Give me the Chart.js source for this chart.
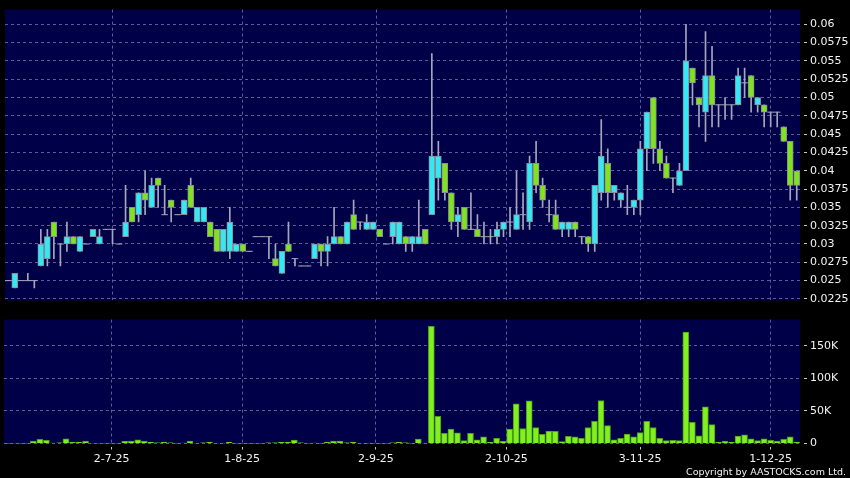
<!DOCTYPE html>
<html>
<head>
<meta charset="utf-8">
<script src="https://cdn.jsdelivr.net/npm/chart.js@4.4.1/dist/chart.umd.min.js"></script>
<style>
html,body{margin:0;padding:0;background:#000;width:850px;height:478px;overflow:hidden}
#p{position:absolute;left:0;top:0}
#v{position:absolute;left:0;top:310px}
#copy{position:absolute;right:4px;top:466px;color:#f4f4f4;font-family:"DejaVu Sans";font-size:9.5px;line-height:12px;white-space:nowrap}
</style>
</head>
<body>
<canvas id="p" width="850" height="310"></canvas>
<canvas id="v" width="850" height="168"></canvas>
<div id="copy">Copyright by AASTOCKS.com Ltd.</div>
<script>
// ---- data (one entry per trading session) ----
const open = [0.025,0.024,0.025,0.025,0.025,0.027,0.028,0.033,0.030,0.030,
0.031,0.029,0.030,0.031,0.030,0.032,0.032,0.030,0.031,0.035,
0.034,0.037,0.035,0.039,0.034,0.036,0.034,0.034,0.038,0.033,
0.033,0.033,0.032,0.029,0.029,0.029,0.030,0.029,0.031,0.031,
0.031,0.028,0.026,0.030,0.028,0.027,0.027,0.028,0.030,0.029,
0.030,0.031,0.030,0.034,0.033,0.032,0.032,0.032,0.030,0.031,
0.030,0.031,0.030,0.030,0.032,0.034,0.039,0.041,0.037,0.033,
0.035,0.032,0.032,0.031,0.031,0.031,0.032,0.033,0.032,0.034,
0.033,0.041,0.038,0.034,0.034,0.032,0.032,0.033,0.031,0.031,
0.030,0.037,0.041,0.037,0.036,0.035,0.035,0.036,0.043,0.050,
0.043,0.041,0.039,0.038,0.040,0.054,0.050,0.048,0.053,0.049,
0.049,0.049,0.049,0.052,0.053,0.049,0.049,0.048,0.048,0.046,
0.044,0.040];
const high = [0.025,0.026,0.025,0.026,0.025,0.032,0.032,0.033,0.030,0.033,
0.031,0.031,0.030,0.032,0.032,0.032,0.032,0.030,0.038,0.035,
0.037,0.040,0.039,0.039,0.038,0.036,0.034,0.036,0.039,0.035,
0.035,0.033,0.032,0.032,0.035,0.030,0.030,0.029,0.031,0.031,
0.031,0.030,0.029,0.033,0.028,0.027,0.027,0.030,0.030,0.031,
0.035,0.031,0.033,0.036,0.033,0.034,0.033,0.032,0.030,0.033,
0.033,0.031,0.031,0.036,0.032,0.056,0.044,0.041,0.037,0.035,
0.035,0.037,0.034,0.033,0.032,0.033,0.033,0.035,0.040,0.037,
0.042,0.044,0.039,0.036,0.036,0.033,0.033,0.033,0.031,0.031,
0.038,0.047,0.043,0.038,0.037,0.038,0.036,0.044,0.048,0.050,
0.044,0.042,0.039,0.041,0.060,0.054,0.050,0.059,0.057,0.049,
0.050,0.049,0.054,0.054,0.053,0.050,0.049,0.048,0.048,0.046,
0.044,0.040];
const low = [0.025,0.024,0.025,0.025,0.024,0.027,0.027,0.028,0.027,0.029,
0.030,0.029,0.030,0.031,0.030,0.032,0.030,0.030,0.031,0.033,
0.033,0.034,0.035,0.035,0.034,0.033,0.034,0.034,0.035,0.033,
0.033,0.031,0.029,0.029,0.028,0.029,0.029,0.029,0.031,0.031,
0.028,0.027,0.026,0.029,0.027,0.027,0.027,0.028,0.027,0.027,
0.030,0.030,0.030,0.032,0.032,0.032,0.032,0.031,0.030,0.030,
0.030,0.029,0.029,0.030,0.030,0.034,0.036,0.036,0.032,0.031,
0.032,0.032,0.031,0.030,0.030,0.030,0.031,0.031,0.032,0.032,
0.032,0.037,0.035,0.033,0.032,0.031,0.031,0.031,0.030,0.029,
0.029,0.036,0.035,0.036,0.035,0.034,0.034,0.034,0.040,0.041,
0.040,0.039,0.037,0.038,0.040,0.049,0.046,0.044,0.046,0.046,
0.047,0.047,0.049,0.050,0.048,0.048,0.046,0.046,0.046,0.044,
0.036,0.036];
const close = [0.025,0.026,0.025,0.025,0.025,0.030,0.031,0.031,0.030,0.031,
0.030,0.031,0.030,0.032,0.031,0.032,0.032,0.030,0.033,0.033,
0.037,0.036,0.038,0.038,0.034,0.035,0.034,0.036,0.035,0.035,
0.035,0.031,0.029,0.032,0.033,0.030,0.029,0.029,0.031,0.031,
0.031,0.027,0.029,0.029,0.028,0.027,0.027,0.030,0.029,0.030,
0.031,0.030,0.033,0.032,0.033,0.033,0.033,0.031,0.030,0.033,
0.033,0.030,0.031,0.031,0.030,0.042,0.042,0.037,0.033,0.034,
0.032,0.032,0.031,0.031,0.031,0.032,0.033,0.033,0.034,0.034,
0.041,0.038,0.036,0.034,0.032,0.033,0.033,0.032,0.031,0.030,
0.038,0.042,0.037,0.038,0.037,0.035,0.036,0.043,0.048,0.043,
0.041,0.039,0.039,0.040,0.055,0.052,0.049,0.053,0.049,0.049,
0.049,0.049,0.053,0.052,0.050,0.050,0.048,0.048,0.048,0.044,
0.038,0.038];
const volume = [300,500,300,300,3800,6300,4800,800,1000,7300,
2300,1800,3800,500,500,300,300,300,3300,3800,
5800,3800,2300,1000,2300,1000,300,800,3800,500,
1000,2300,500,500,1800,300,300,300,300,300,
1000,1000,2300,2300,5300,1000,300,800,300,2300,
3800,3800,1000,2300,500,300,300,300,300,1000,
2300,1000,300,6800,500,179500,41700,15500,22000,16400,
4300,15500,5800,10300,2300,7800,3300,22000,61000,23000,
65400,24500,14000,19000,18700,2800,10900,10300,7800,24500,
34000,66000,27500,5500,8000,14500,10300,16900,34000,24500,
8000,4300,5000,4300,171000,32600,11900,56300,29000,2300,
3300,2300,11400,13400,7300,4300,7300,4800,3800,6300,
10300,2000];

// axis labels
const monthLabels = ['2-7-25','1-8-25','2-9-25','2-10-25','3-11-25','1-12-25'];
const monthAt = [16, 36, 56.5, 76.5, 97, 117];   // session index under each month label
const priceTicks = [0.0225,0.025,0.0275,0.03,0.0325,0.035,0.0375,0.04,0.0425,0.045,0.0475,0.05,0.0525,0.055,0.0575,0.06];
const volumeTicks = [0, 50000, 100000, 150000];

// ---- styling ----
const UP = '#34e8f4', DOWN = '#7fe41e', EDGE = '#8c8c96', WICK = '#a6a6ba';
const GRID = '#5c5c98', TXT = '#f2f2f2', NAVY = '#000048', VOL = '#80f020';
const FONT = {family: 'DejaVu Sans', size: 11};

const idx = close.map((_, i) => i);

const navyPlugin = {
  id: 'navy',
  beforeDraw(c) {
    const {ctx, chartArea: a} = c;
    ctx.save();
    ctx.fillStyle = NAVY;
    ctx.fillRect(a.left, a.top, a.right - a.left, a.bottom - a.top);
    ctx.restore();
  }
};

function xAxis(withLabels) {
  return {
    type: 'linear', min: -0.5, max: close.length - 0.5, offset: false,
    afterBuildTicks: s => { s.ticks = monthAt.map(v => ({value: v})); },
    afterFit: s => { s.height = withLabels ? 34.5 : 0; },
    border: {display: false, dash: [3, 3]},
    grid: {color: GRID, lineWidth: 1, offset: false, drawTicks: withLabels,
           tickLength: 6, tickColor: '#c8c8c8', tickBorderDash: [0, 3, 3, 30]},
    ticks: {display: withLabels, autoSkip: false, maxRotation: 0, color: TXT, font: FONT, padding: 3,
            callback: (v, i) => monthLabels[i]}
  };
}

function yAxis(min, max, tickVals, fmt) {
  return {
    type: 'linear', position: 'right', min: min, max: max,
    afterBuildTicks: s => { s.ticks = tickVals.map(v => ({value: v})); },
    afterFit: s => { s.width = 50; },
    border: {display: false, dash: [3, 3]},
    grid: {color: GRID, lineWidth: 1, drawTicks: true, tickLength: 7,
           tickColor: '#c8c8c8', tickBorderDash: [0, 4, 3, 30]},
    ticks: {color: TXT, font: FONT, padding: 3, callback: fmt}
  };
}

const common = {
  responsive: false, animation: false, events: [],
  plugins: {legend: {display: false}, tooltip: {enabled: false}}
};

new Chart(document.getElementById('p'), {
  type: 'bar',
  data: {
    datasets: [
      { // high-low wicks
        order: 3, grouped: false, barThickness: 1, backgroundColor: WICK, borderWidth: 0,
        data: idx.map(i => ({x: i, y: [low[i], high[i]]}))
      },
      { // sessions with open == close, drawn as a flat dash
        type: 'line', order: 2, showLine: false, pointStyle: 'line', pointRadius: 3.3,
        pointBorderWidth: 1, pointBorderColor: WICK, pointBackgroundColor: WICK,
        data: idx.filter(i => open[i] === close[i]).map(i => ({x: i, y: close[i]}))
      },
      { // open-close bodies
        order: 1, grouped: false, barThickness: 6, borderWidth: 1, borderColor: EDGE, borderSkipped: false,
        backgroundColor: c => (c.raw && c.raw.y[1] > c.raw.y[0]) ? UP : DOWN,
        data: idx.filter(i => open[i] !== close[i]).map(i => ({x: i, y: [open[i], close[i]]}))
      }
    ]
  },
  options: Object.assign({}, common, {
    layout: {padding: {left: 4, right: 0, top: 5, bottom: 4.5}},
    scales: {
      x: xAxis(false),
      y: yAxis(0.0223, 0.0620, priceTicks, v => String(v))
    }
  }),
  plugins: [navyPlugin]
});

new Chart(document.getElementById('v'), {
  type: 'bar',
  data: {
    datasets: [{
      barThickness: 6, backgroundColor: VOL, borderColor: '#4c9c14', borderWidth: 1,
      data: idx.map(i => ({x: i, y: volume[i]}))
    }]
  },
  options: Object.assign({}, common, {
    layout: {padding: {left: 4, right: 0, top: 8.5, bottom: 0}},
    scales: {
      x: xAxis(true),
      y: yAxis(0, 190000, volumeTicks, v => v === 0 ? '0' : (v / 1000) + 'K')
    }
  }),
  plugins: [navyPlugin]
});
</script>
</body>
</html>
